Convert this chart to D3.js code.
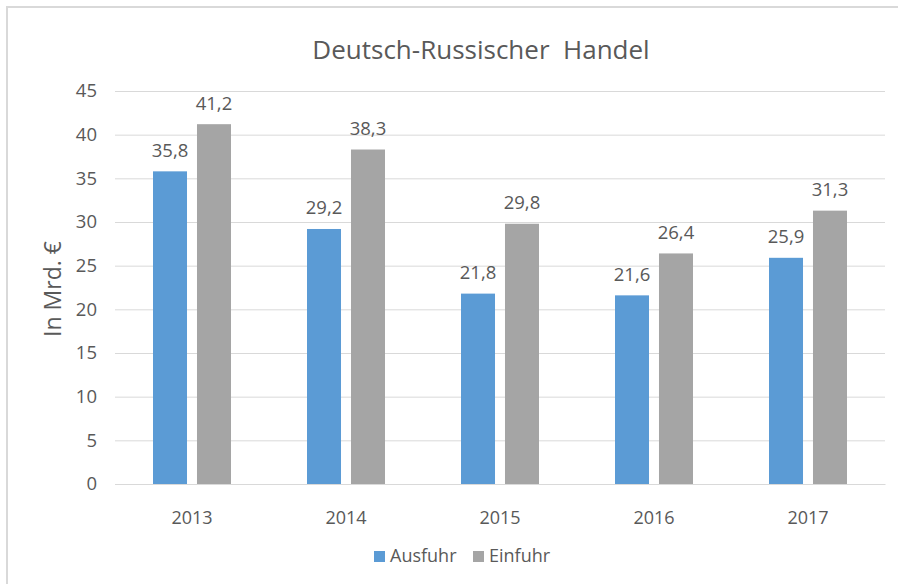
<!DOCTYPE html>
<html>
<head>
<meta charset="utf-8">
<script src="https://cdn.jsdelivr.net/npm/d3@7"></script>
<style>
  body { margin: 0; background: #fff; }
  text { font-family: "Open Sans", "Noto Sans", sans-serif; fill: #595959; }
</style>
</head>
<body>
<div id="chart"></div>
<script>
// data
const years = ["2013", "2014", "2015", "2016", "2017"];
const ausfuhr = [35.8, 29.2, 21.8, 21.6, 25.9];
const einfuhr = [41.2, 38.3, 29.8, 26.4, 31.3];
const seriesNames = ["Ausfuhr", "Einfuhr"];
const yTicks = [0, 5, 10, 15, 20, 25, 30, 35, 40, 45];

const W = 898, H = 584;
const margin = { top: 91, right: 13, bottom: 100, left: 115 };
const width = W - margin.left - margin.right;
const height = H - margin.top - margin.bottom;
const colors = ["#5B9BD5", "#A5A5A5"];

const root = d3.select("#chart").append("svg")
    .attr("width", W).attr("height", H);

// chart border (left + top visible)
root.append("path")
    .attr("d", `M7,${H} L7,7 L${W},7`)
    .attr("fill", "none")
    .attr("stroke", "#D9D9D9")
    .attr("stroke-width", 2);

const svg = root.append("g")
    .attr("transform", `translate(${margin.left},${margin.top})`);

const x = d3.scaleBand().domain(years).range([0, width]);
const x1 = d3.scaleBand().domain(seriesNames).range([38, 116]).paddingInner(0.227);
const y = d3.scaleLinear().domain([0, 45]).range([height, 0]);

// grid lines
svg.append("g")
    .call(d3.axisLeft(y).tickValues(yTicks).tickSize(-width).tickFormat(""))
    .call(g => g.select(".domain").remove())
    .call(g => g.selectAll("line").attr("stroke", "#D9D9D9").attr("stroke-width", 1));

// y tick labels
svg.append("g")
    .call(d3.axisLeft(y).tickValues(yTicks).tickSize(0).tickPadding(18))
    .call(g => g.select(".domain").remove())
    .call(g => g.selectAll("text").style("font-size", "18.5px").attr("fill", "#595959"));

// x axis
svg.append("g")
    .attr("transform", `translate(0,${height})`)
    .call(d3.axisBottom(x).tickSize(0).tickPadding(27))
    .call(g => g.select(".domain").attr("stroke", "#D9D9D9"))
    .call(g => g.selectAll("text").style("font-size", "18px").attr("fill", "#595959"));

const rows = years.map((yr, i) => ({ year: yr, vals: [ausfuhr[i], einfuhr[i]] }));

const groups = svg.append("g").selectAll("g")
    .data(rows).join("g")
    .attr("transform", d => `translate(${x(d.year)},0)`);

groups.selectAll("rect")
    .data(d => d.vals.map((v, j) => ({ key: seriesNames[j], v, j })))
    .join("rect")
    .attr("x", d => x1(d.key))
    .attr("y", d => y(d.v))
    .attr("width", x1.bandwidth())
    .attr("height", d => y(0) - y(d.v))
    .attr("fill", d => colors[d.j]);

groups.selectAll("text.lbl")
    .data(d => d.vals.map((v, j) => ({ key: seriesNames[j], v })))
    .join("text")
    .attr("class", "lbl")
    .attr("x", d => x1(d.key) + x1.bandwidth() / 2)
    .attr("y", d => y(d.v) - 14.5)
    .attr("text-anchor", "middle")
    .style("font-size", "18.5px")
    .text(d => d3.format(".1f")(d.v).replace(".", ","));

// title
root.append("text")
    .attr("x", 481)
    .attr("y", 59)
    .attr("text-anchor", "middle")
    .style("font-size", "26px")
    .style("white-space", "pre")
    .text("Deutsch-Russischer  Handel");

// y axis label
root.append("text")
    .attr("transform", "translate(61,289) rotate(-90)")
    .attr("text-anchor", "middle")
    .style("font-size", "23px")
    .text("In Mrd. €");

// legend
const legend = root.append("g").attr("transform", "translate(374,562)");
const legX = [0, 99];
seriesNames.forEach((s, i) => {
    legend.append("rect")
        .attr("x", legX[i]).attr("y", -11)
        .attr("width", 11).attr("height", 11)
        .attr("fill", colors[i]);
    legend.append("text")
        .attr("x", legX[i] + 16).attr("y", 0)
        .style("font-size", "18px")
        .text(s);
});
</script>
</body>
</html>
